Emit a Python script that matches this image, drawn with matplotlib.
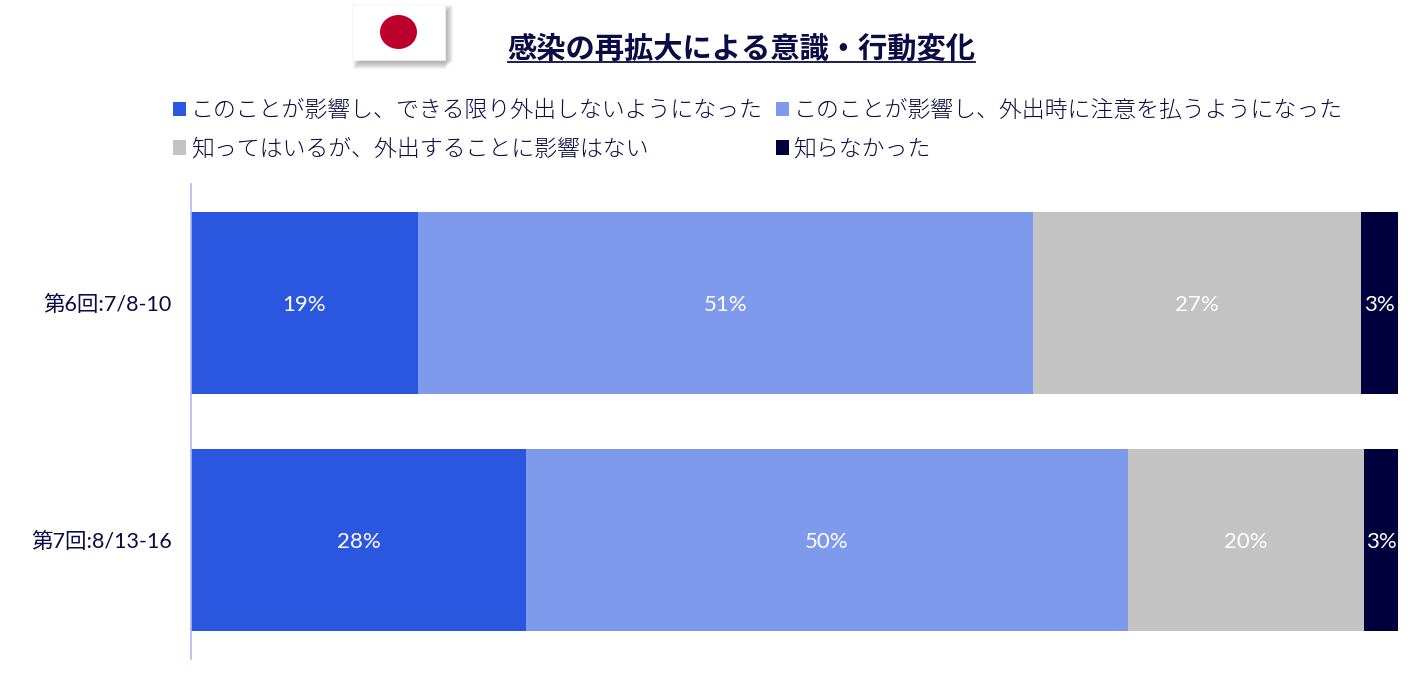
import matplotlib
matplotlib.use('Agg')
import matplotlib.pyplot as plt
from matplotlib.patches import Rectangle, Ellipse

plt.rcParams['font.family'] = ['Noto Sans CJK JP', 'DejaVu Sans']
latin_first = ['Lato', 'Noto Sans CJK JP']

# Data
categories = ['第6回:7/8-10', '第7回:8/13-16']
series_names = ['このことが影響し、できる限り外出しないようになった',
                'このことが影響し、外出時に注意を払うようになった',
                '知ってはいるが、外出することに影響はない',
                '知らなかった']
stay_home = [18.8, 27.75]
careful = [51.0, 49.85]
no_effect = [27.1, 19.6]
unaware = [3.1, 2.8]
title = '感染の再拡大による意識・行動変化'

colors = ['#2A56E0', '#7F99EC', '#C3C3C3', '#00003C']
text_color = '#0B0B45'
W, H = 1424, 680

fig = plt.figure(figsize=(W/100, H/100), dpi=100)

# Axes in pixel position
ax = fig.add_axes([191/W, 1-659/H, (1398-191)/W, (659-184)/H])
series = [stay_home, careful, no_effect, unaware]
left = [0, 0]
handles = []
for vals, name, c in zip(series, series_names, colors):
    bars = ax.barh(range(len(categories)), vals, left=left, height=0.767, color=c, label=name)
    handles.append(bars)
    for i, v in enumerate(vals):
        ax.text(left[i]+v/2, i+0.008, '%d%%' % round(v), color='white', fontsize=16,
                family=latin_first, ha='center', va='center')
    left = [l+v for l, v in zip(left, vals)]

ax.set_xlim(0, 100)
ax.set_ylim(1.5, -0.5)
ax.set_yticks(range(len(categories)))
ax.set_yticklabels(categories, fontsize=15.5, color=text_color, family=latin_first)
ax.tick_params(axis='y', length=0, pad=14)
ax.xaxis.set_visible(False)
for s in ['top', 'right', 'bottom']:
    ax.spines[s].set_visible(False)
ax.spines['left'].set_color('#B4B4F0')
ax.spines['left'].set_linewidth(1.2)

# Legend, two columns
order = [0, 2, 1, 3]
leg = fig.legend([handles[i] for i in order], [series_names[i] for i in order],
                 ncol=2, frameon=False, fontsize=16.5, labelcolor=text_color,
                 loc='upper left', bbox_to_anchor=(166/W, 1-91/H),
                 handlelength=0.57, handleheight=0.57, handletextpad=0.21,
                 columnspacing=0.57, labelspacing=0.6, borderpad=0.3, borderaxespad=0)
for t in leg.get_texts():
    t.set_fontweight('light')

# Title with underline
fig.text(741.5/W, 1-49/H, title, fontsize=21.1, fontweight='bold', color=text_color,
         ha='center', va='center')
fig.add_artist(plt.Line2D([508/W, 975/W], [1-61.5/H, 1-61.5/H], color=text_color, lw=1.3))

# Flag with soft shadow
for k in range(9):
    fig.add_artist(Rectangle(((353+k)/W, 1-(69-k)/H), 92/W, 56/H, transform=fig.transFigure,
                             facecolor='#303030', alpha=0.055, edgecolor='none'))
fig.add_artist(Rectangle((352/W, 1-60/H), 93/W, 56/H, transform=fig.transFigure,
                         facecolor='white', edgecolor='#F2F2F2', lw=0.5))
fig.add_artist(Ellipse((398.5/W, 1-32/H), 37/W, 34/H, transform=fig.transFigure,
                       facecolor='#BC002D', edgecolor='none'))

fig.savefig('out.png', dpi=100)
